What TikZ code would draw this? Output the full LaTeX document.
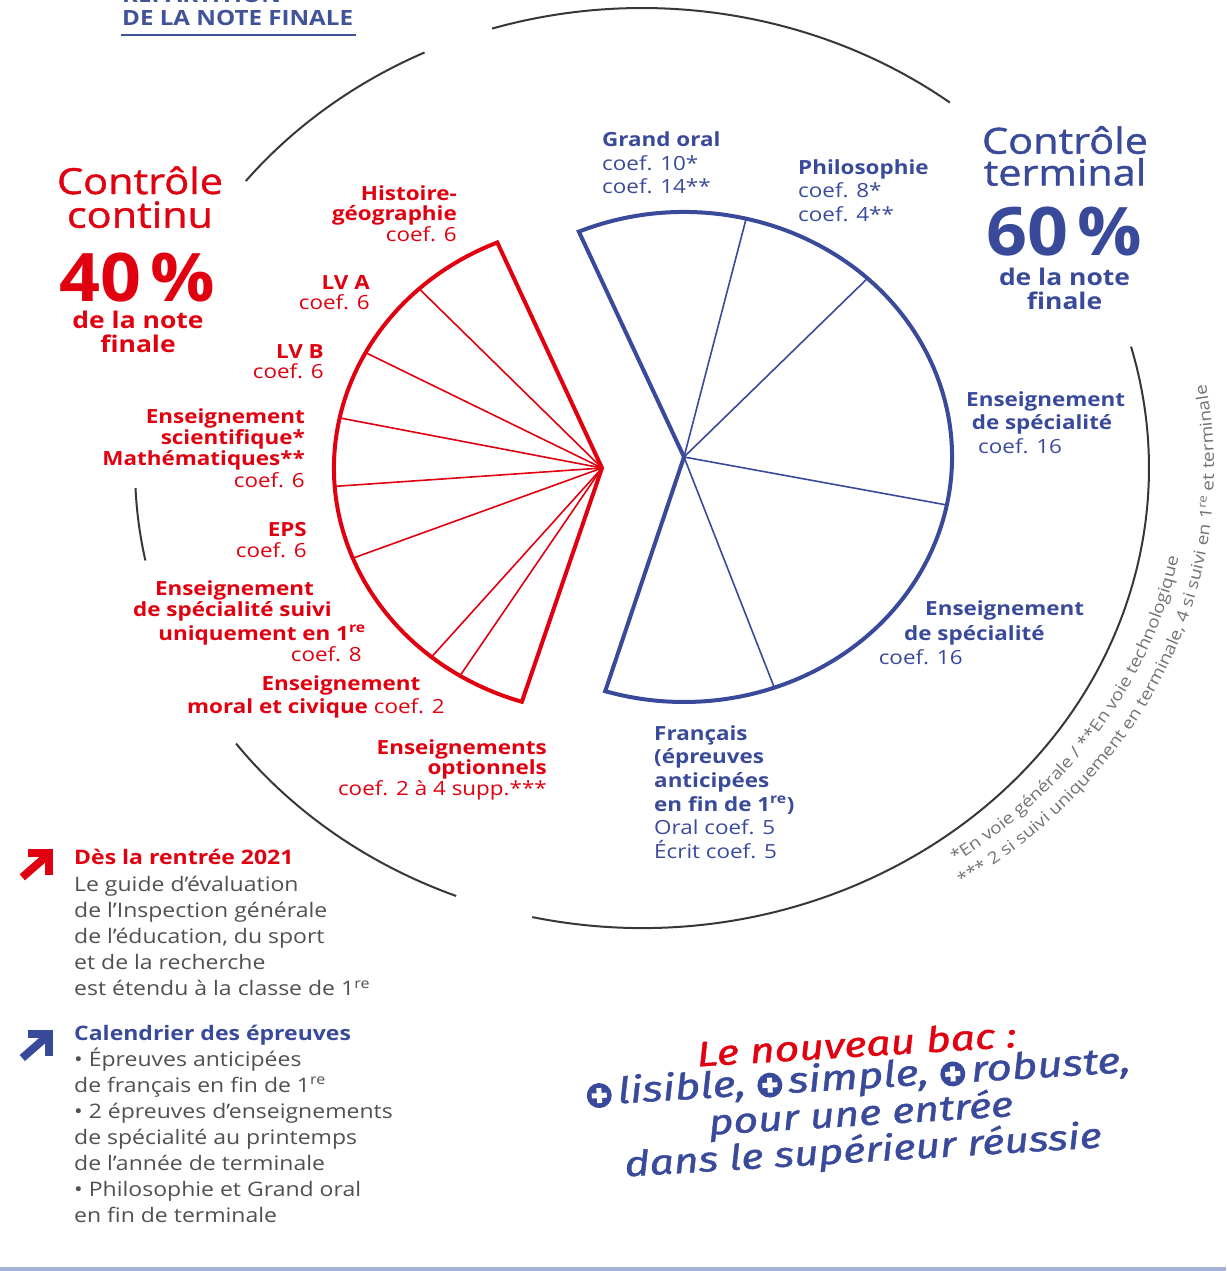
\documentclass[tikz,border=0pt]{standalone}
\usepackage{fontspec}
\setmainfont{Open Sans}[FakeStretch=1.15]
\newfontfamily\medfont{Open Sans}[FakeStretch=1.15,FakeBold=1.2]
\newfontfamily\pctfont{Open Sans}[FakeStretch=1.07]
\newfontfamily\slogfont{Fira Sans}[FakeStretch=1.22,FakeBold=1.2]
\usetikzlibrary{calc,decorations.text}
\definecolor{rouge}{RGB}{225,0,15}
\definecolor{bleu}{RGB}{58,74,155}
\definecolor{bleutitre}{RGB}{64,82,152}
\definecolor{gristrait}{RGB}{55,55,55}
\definecolor{gristexte}{RGB}{80,80,80}
\definecolor{grisnote}{RGB}{115,115,115}
\definecolor{filet}{RGB}{165,178,215}
\newcommand\plusrond{\tikz[baseline=-9pt,x=1pt,y=1pt]{\fill[bleu] (0,0) circle (12.5pt);\fill[white] (-7.5pt,-2.5pt) rectangle (7.5pt,2.5pt);\fill[white] (-2.5pt,-7.5pt) rectangle (2.5pt,7.5pt);}}
\begin{document}
\begin{tikzpicture}[x=1pt,y=-1pt,
  outer/.style={draw=gristrait, line width=2pt},
  redbord/.style={draw=rouge, line width=4pt, line join=miter},
  redfin/.style={draw=rouge, line width=1.6pt},
  bluebord/.style={draw=bleu, line width=4pt, line join=miter},
  bluefin/.style={draw=bleu, line width=1.6pt},
  lab/.style={inner sep=0pt, font=\fontsize{19.5}{20.5}\selectfont},
  rlab/.style={lab, text=rouge, align=right, anchor=base east},
  rbold/.style={lab, text=rouge, anchor=base, font=\bfseries\fontsize{19.5}{20.5}\selectfont},
  blab/.style={lab, text=bleu, align=left, anchor=base west, font=\fontsize{19.5}{23.7}\selectfont},
  bbold/.style={blab, font=\bfseries\fontsize{19.5}{23.7}\selectfont},
  body/.style={inner sep=0pt, text=gristexte, align=left, anchor=base west, font=\fontsize{20}{26}\selectfont},
  bodyhead/.style={inner sep=0pt, anchor=base west, font=\bfseries\fontsize{20}{26}\selectfont},
  big/.style={inner sep=0pt, align=center, anchor=base, font=\medfont\fontsize{36}{33.7}\selectfont},
  pct/.style={inner sep=0pt, anchor=base, font=\pctfont\bfseries\fontsize{67}{67}\selectfont},
  sub/.style={inner sep=0pt, align=center, anchor=base, font=\bfseries\fontsize{23}{24.4}\selectfont},
  titre/.style={inner sep=0pt, anchor=base west, text=bleutitre, font=\bfseries\fontsize{21}{23}\selectfont},
  fleche/.style={line width=8pt},
]
\useasboundingbox (0,0) rectangle (1226,1271);

% ---- title
\node[titre] (titre0) at (122,3) {RÉPARTITION};
\node[titre] (titre1) at (122,26) {DE LA NOTE FINALE};
\draw[bleutitre, line width=2.5pt] ($(titre1.base west)+(-1,9)$) -- ($(titre1.base east)+(3,9)$);

% ---- outer grey arcs
\coordinate (O) at (642,468);
\draw[outer] ($(O)+(-115.4:507 and 460)$) arc[start angle=-115.4, end angle=-141.4, x radius=507, y radius=460];
\draw[outer] ($(O)+(-52.6:507 and 460)$) arc[start angle=-52.6, end angle=-107.2, x radius=507, y radius=460];
\draw[outer] ($(O)+(102.5:507 and 460)$) arc[start angle=102.5, end angle=-15.3, x radius=507, y radius=460];
\draw[outer] ($(O)+(143.2:507 and 460)$) arc[start angle=143.2, end angle=111.5, x radius=507, y radius=460];
\draw[outer] ($(O)+(177.5:507 and 460)$) arc[start angle=177.5, end angle=168.4, x radius=507, y radius=460];

% ---- footnote along the arc
\path[decorate, decoration={text along path, text align=left,
  text={|\fontsize{16.5}{16.5}\selectfont\color{grisnote}|*En voie générale / **En voie technologique}}]
  ($(O)+(55:546 and 482)$) arc[start angle=55, end angle=-40, x radius=546, y radius=482];
\path[decorate, decoration={text along path, text align=left,
  text={|\fontsize{16.5}{16.5}\selectfont\color{grisnote}|*** 2 si suivi uniquement en terminale, 4 si suivi en 1{\textsuperscript{re}} et terminale}}]
  ($(O)+(56:572 and 503)$) arc[start angle=56, end angle=-40, x radius=572, y radius=503];

% ---- red fan (controle continu)
\coordinate (R) at (602,468);
\foreach \a in {-133,-151.9,-168.2,-184.3,-201.6,-230.5,-238}
  \draw[redfin] (R) -- ($(R)+(\a:268 and 245)$);
\draw[redbord] (R) -- ($(R)+(-113:268 and 245)$) arc[start angle=-113, end angle=-252.6, x radius=268, y radius=245] -- cycle;

% ---- blue pie (controle terminal)
\coordinate (B) at (684,457);
\foreach \a in {-76.6,-46.8,11.3,70.3}
  \draw[bluefin] (B) -- ($(B)+(\a:268 and 245)$);
\draw[bluebord] (B) -- ($(B)+(-113.1:268 and 245)$) arc[start angle=-113.1, end angle=107.1, x radius=268, y radius=245] -- cycle;

% ---- headings (base anchor = baseline of the last line)
\node[big, text=rouge] (cc) at (140,227.7) {Contrôle\\continu};
\node[pct, text=rouge] (p40) at (137,301.7) {40\kern9pt\%};
\node[sub, text=rouge] (cc2) at (138,352.7) {de la note\\finale};
\node[big, text=bleu, font=\medfont\fontsize{36}{31.8}\selectfont] (ct) at (1065,185.5) {Contrôle\\terminal};
\node[pct, text=bleu] (p60) at (1064.5,255) {60\kern9pt\%};
\node[sub, text=bleu] (ct2) at (1064.5,309.4) {de la note\\finale};

% ---- red labels
\node[rlab] (hg) at (457,241) {\textbf{Histoire-}\\\textbf{géographie}\\coef. 6};
\node[rlab] (lva) at (370,309.8) {\textbf{LV A}\\coef. 6};
\node[rlab] (lvb) at (324,378.8) {\textbf{LV B}\\coef. 6};
\node[rlab, font=\fontsize{19.5}{21.3}\selectfont] (sci) at (305,487.2) {\textbf{Enseignement}\\\textbf{scientifique*}\\\textbf{Mathématiques**}\\coef. 6};
\node[rlab] (eps) at (307,557.2) {\textbf{EPS}\\coef. 6};
\node[rbold] (spa) at (234.5,595) {Enseignement};
\node[rbold] (spb) at (232.5,616.7) {de spécialité suivi};
\node[rbold] (spc) at (262,640) {uniquement en 1\textsuperscript{re}};
\node[rlab] (spd) at (362,661.7) {coef. 8};
\node[rbold] (emca) at (341,690) {Enseignement};
\node[rlab] (emcb) at (445,713) {\textbf{moral et civique} coef. 2};
\node[rlab] (opt) at (547,795) {\textbf{Enseignements}\\\textbf{optionnels}\\coef. 2 à 4 supp.***};

% ---- blue labels
\node[blab] (go) at (602,193.9) {\textbf{Grand oral}\\coef. 10*\\coef. 14**};
\node[blab] (ph) at (798,221.4) {\textbf{Philosophie}\\coef. 8*\\coef. 4**};
\node[bbold] (esa) at (966,406) {Enseignement};
\node[bbold] (esb) at (971.6,429) {de spécialité};
\node[blab] (esc) at (978,453.7) {coef. 16};
\node[bbold] (esd) at (925,615.5) {Enseignement};
\node[bbold] (ese) at (904,640.5) {de spécialité};
\node[blab] (esf) at (878.6,664.4) {coef. 16};
\node[blab] (fr) at (654,858.5) {\textbf{Français}\\\textbf{(épreuves}\\\textbf{anticipées}\\\textbf{en fin de 1\textsuperscript{re})}\\Oral coef. 5\\Écrit coef. 5};

% ---- bottom-left notes
\coordinate (fa) at (49.3,853.3);
\draw[rouge, fleche, line join=miter] ($(fa)+(-21.3,0)$) -- (fa) -- ($(fa)+(0,22)$);
\draw[rouge, fleche] ($(fa)+(-27,24)$) -- ($(fa)+(-3,3)$);
\node[bodyhead, text=rouge] (des) at (74,864.3) {Dès la rentrée 2021};
\node[body] (guide) at (74,995.7) {Le guide d’évaluation\\de l’Inspection générale\\de l’éducation, du sport\\et de la recherche\\est étendu à la classe de 1\textsuperscript{re}};
\coordinate (fb) at (49.3,1034);
\draw[bleu, fleche, line join=miter] ($(fb)+(-21.3,0)$) -- (fb) -- ($(fb)+(0,22)$);
\draw[bleu, fleche] ($(fb)+(-27,24)$) -- ($(fb)+(-3,3)$);
\node[bodyhead, text=bleu] (cal) at (74,1040.7) {Calendrier des épreuves};
\node[body] (epr) at (74,1222) {• Épreuves anticipées\\de français en fin de 1\textsuperscript{re}\\• 2 épreuves d’enseignements\\de spécialité au printemps\\de l’année de terminale\\• Philosophie et Grand oral\\en fin de terminale};

% ---- slogan
\node[inner sep=0pt, align=center, text=bleu, rotate=3.5, font=\slogfont\itshape\fontsize{35}{32}\selectfont] (slogan) at (860,1100) {{\color{rouge}Le nouveau bac :}\\{\fontsize{36}{32}\selectfont\plusrond\hspace{6pt}lisible, \plusrond\hspace{6pt}simple, \plusrond\hspace{6pt}robuste,}\\pour une entrée\\dans le supérieur réussie};

% ---- bottom rule
\coordinate (fl0) at (0,1269);
\coordinate (fl1) at (1226,1269);
\draw[filet, line width=3.5pt] (fl0) -- (fl1);
\end{tikzpicture}
\end{document}
